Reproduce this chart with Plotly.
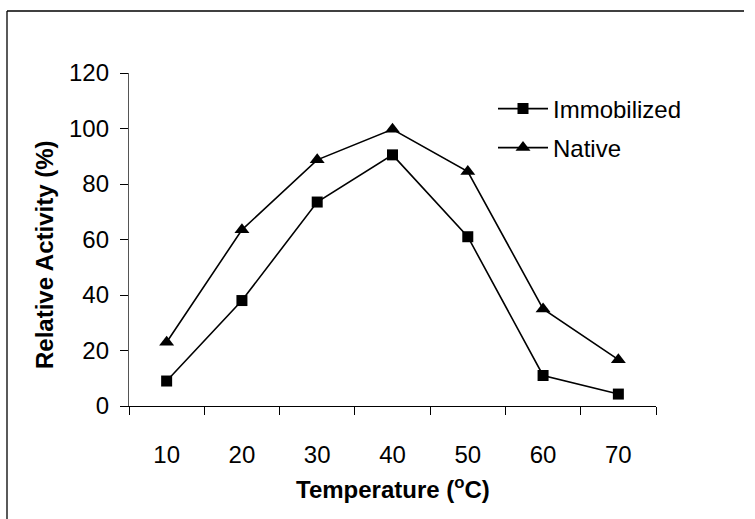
import plotly.graph_objects as go

temperature = ["10", "20", "30", "40", "50", "60", "70"]
immobilized = [9, 38, 73.5, 90.5, 61, 11, 4.3]
native = [23, 63.5, 88.7, 99.7, 84.5, 35, 16.7]
y_ticks = [0, 20, 40, 60, 80, 100, 120]

W, H = 755, 519
L, R, T, B = 129, 99, 73, 113
pw, ph = W - L - R, H - T - B

def px_x(x):
    return (x - L) / pw

def px_y(y):
    return (H - B - y) / ph

FONT = "Liberation Sans, Arial, sans-serif"

fig = go.Figure()
fig.add_trace(go.Scatter(
    x=temperature, y=immobilized, name="Immobilized", mode="lines+markers",
    line=dict(color="black", width=1.6),
    marker=dict(symbol="square", size=11, color="black"),
    legend="legend",
))
fig.add_trace(go.Scatter(
    x=temperature, y=native, name="Native", mode="lines+markers",
    line=dict(color="black", width=1.6),
    marker=dict(symbol="triangle-up", size=13, color="black"),
    legend="legend2",
))

border = dict(color="black", width=1.3)

fig.update_layout(
    width=W, height=H,
    margin=dict(l=L, r=R, t=T, b=B),
    paper_bgcolor="white", plot_bgcolor="white",
    font=dict(family=FONT, size=24, color="black"),
    showlegend=True,
    legend=dict(x=px_x(493), y=px_y(109), xanchor="left", yanchor="middle",
                bgcolor="rgba(0,0,0,0)", font=dict(size=24), itemwidth=50),
    legend2=dict(x=px_x(493), y=px_y(148), xanchor="left", yanchor="middle",
                 bgcolor="rgba(0,0,0,0)", font=dict(size=24), itemwidth=50),
    xaxis=dict(
        type="category", range=[-0.5, 6.5], tickson="boundaries",
        showline=True, linecolor="black", linewidth=1.3,
        ticks="outside", ticklen=8, tickcolor="black", tickwidth=1.3,
        showgrid=False, zeroline=False,
        tickfont=dict(size=24), ticklabelstandoff=27,
    ),
    yaxis=dict(
        range=[0, 120], tickvals=y_ticks,
        showline=True, linecolor="#555555", linewidth=1.3,
        ticks="outside", ticklen=8, tickcolor="black", tickwidth=1.3,
        showgrid=False, zeroline=False,
        tickfont=dict(size=24), ticklabelstandoff=6,
    ),
    annotations=[
        dict(text="<b>Temperature (<sup>o</sup>C)</b>", xref="paper", yref="paper",
             x=0.5, y=px_y(488), xanchor="center", yanchor="middle",
             showarrow=False, font=dict(size=24)),
        dict(text="<b>Relative Activity (%)</b>", xref="paper", yref="paper",
             x=px_x(44), y=px_y(255), xanchor="center", yanchor="middle",
             textangle=-90, showarrow=False, font=dict(size=24)),
    ],
    shapes=[
        dict(type="line", xref="paper", yref="paper",
             x0=px_x(7), y0=px_y(11), x1=px_x(744), y1=px_y(11), line=border),
        dict(type="line", xref="paper", yref="paper",
             x0=px_x(7), y0=px_y(11), x1=px_x(7), y1=px_y(519), line=border),
    ],
)

fig.write_html(
    "out.html",
    config={"displayModeBar": False},
    post_script=("document.body.style.margin='0';"
                 "document.body.style.overflow='hidden';"
                 "document.documentElement.style.overflow='hidden';"),
)
